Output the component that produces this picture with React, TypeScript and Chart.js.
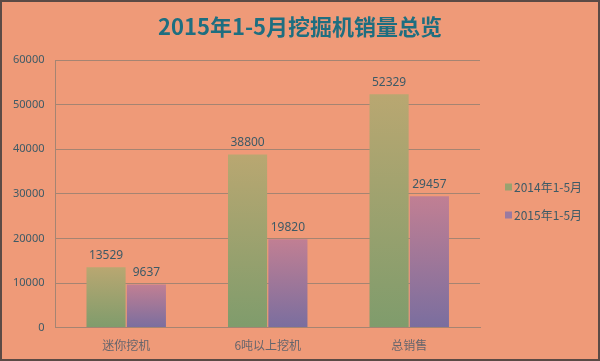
import React, { useEffect, useRef } from "react";
import { Chart, registerables } from "chart.js";

Chart.register(...registerables);

const categories = ["迷你挖机", "6吨以上挖机", "总销售"];
const series2014 = [13529, 38800, 52329];
const series2015 = [9637, 19820, 29457];
const seriesNames = ["2014年1-5月", "2015年1-5月"];
const legendColors = ["#98a270", "#9a7aa0"];
const yTicks = [0, 10000, 20000, 30000, 40000, 50000, 60000];
const titleText = "2015年1-5月挖掘机销量总览";

const gradientFill = (top: string, bottom: string, fallback: string) => (ctx: any) => {
  const chart = ctx.chart;
  const y = chart.scales && chart.scales.y;
  if (!y || ctx.type !== "data") return fallback;
  const v = ctx.raw as number;
  const yTop = y.getPixelForValue(v);
  const yBot = y.getPixelForValue(0);
  if (!isFinite(yTop) || !isFinite(yBot) || yTop === yBot) return fallback;
  const g = chart.ctx.createLinearGradient(0, yTop, 0, yBot);
  g.addColorStop(0, top);
  g.addColorStop(1, bottom);
  return g;
};

const valueLabels = {
  id: "valueLabels",
  afterDatasetsDraw(chart: any) {
    const { ctx } = chart;
    ctx.save();
    ctx.font = "12px 'Noto Sans'";
    ctx.fillStyle = "#3d5a66";
    ctx.textAlign = "center";
    ctx.textBaseline = "bottom";
    chart.data.datasets.forEach((ds: any, i: number) => {
      const meta = chart.getDatasetMeta(i);
      meta.data.forEach((bar: any, j: number) => {
        ctx.fillText(String(ds.data[j]), bar.x, bar.y - 6);
      });
    });
    ctx.restore();
  },
};

const sideLegendAndTitle = {
  id: "sideLegendAndTitle",
  afterDraw(chart: any) {
    const { ctx, chartArea, width } = chart;
    ctx.save();
    ctx.font = "bold 22px 'Noto Sans CJK SC'";
    ctx.fillStyle = "#1e6e80";
    ctx.textAlign = "center";
    ctx.textBaseline = "middle";
    ctx.fillText(titleText, width / 2, 25);

    ctx.font = "12px 'Noto Sans CJK SC'";
    ctx.textAlign = "left";
    chart.data.datasets.forEach((ds: any, i: number) => {
      const x = chartArea.right + 25;
      const y = chartArea.top + 127 + i * 28;
      ctx.fillStyle = legendColors[i];
      ctx.fillRect(x, y - 3.5, 7, 7);
      ctx.fillStyle = "#3d5a66";
      ctx.fillText(ds.label, x + 9, y);
    });
    ctx.restore();
  },
};

export default function App() {
  const ref = useRef<HTMLCanvasElement>(null);
  useEffect(() => {
    if (!ref.current) return;
    const chart = new Chart(ref.current, {
      type: "bar",
      data: {
        labels: categories,
        datasets: [
          {
            label: seriesNames[0],
            data: series2014,
            backgroundColor: gradientFill("#b9a771", "#7f9c6c", "#a0a270"),
          },
          {
            label: seriesNames[1],
            data: series2015,
            backgroundColor: gradientFill("#c17f93", "#7a6e9f", "#9c7896"),
          },
        ],
      },
      options: {
        animation: false,
        responsive: false,
        maintainAspectRatio: false,
        layout: { padding: { left: 0, right: 118, top: 58, bottom: 3 } },
        datasets: { bar: { categoryPercentage: 0.57, barPercentage: 0.97 } },
        plugins: {
          title: { display: false },
          legend: { display: false },
          tooltip: { enabled: false },
        },
        scales: {
          x: {
            grid: { display: false },
            border: { display: true, color: "#a58472" },
            ticks: { color: "#66656c", font: { size: 12, family: "'Noto Sans CJK SC'" }, padding: 3 },
          },
          y: {
            min: 0,
            max: 60000,
            afterBuildTicks: (s: any) => {
              s.ticks = yTicks.map((v) => ({ value: v }));
            },
            grid: { color: "#a58472", drawTicks: false },
            border: { display: true, color: "#a58472" },
            ticks: {
              color: "#3d5a66",
              font: { size: 11, family: "'Noto Sans'" },
              padding: 11,
              callback: (v: any) => String(v),
            },
          },
        },
      },
      plugins: [valueLabels, sideLegendAndTitle],
    });
    return () => chart.destroy();
  }, []);
  return (
    <div
      style={{
        position: "absolute",
        left: 0,
        top: 0,
        width: 600,
        height: 361,
        boxSizing: "border-box",
        border: "2px solid #5b4a45",
        background: "#ef9a78",
      }}
    >
      <canvas ref={ref} width={596} height={357} style={{ display: "block" }} />
    </div>
  );
}
